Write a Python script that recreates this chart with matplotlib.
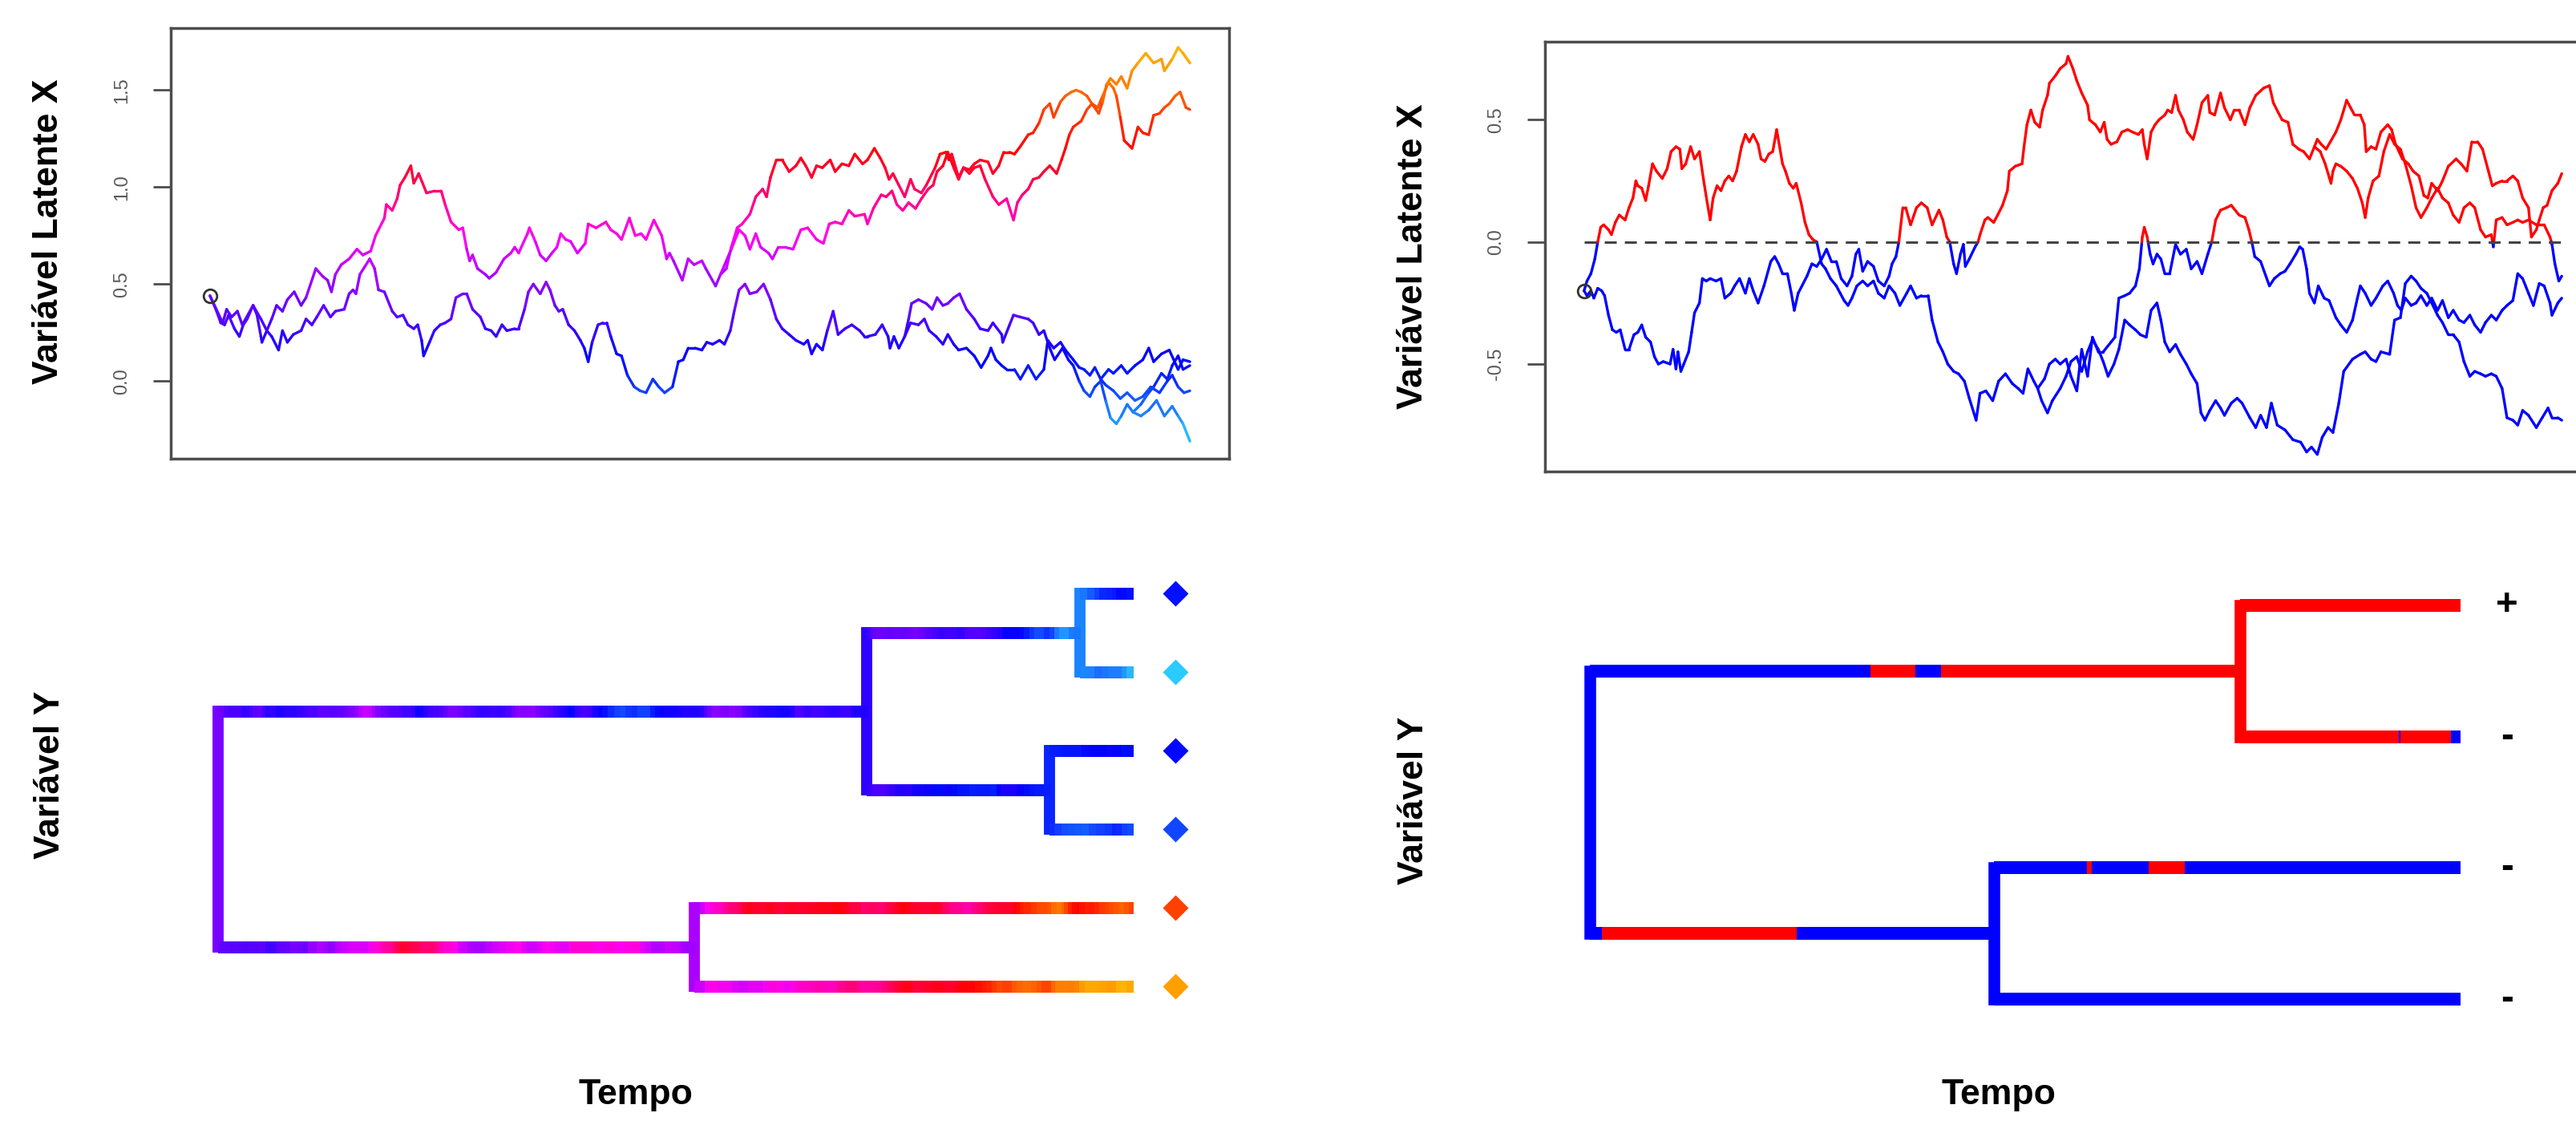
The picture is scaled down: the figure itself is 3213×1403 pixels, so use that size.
#!/usr/bin/env python3
"""
Movimento browniano ao longo da árvore: trajetórias da variável latente (em cima)
e a árvore colorida pelo valor do traço (em baixo).
Esquerda: traço contínuo (paleta tipo contMap). Direita: modelo de limiar, >0 vermelho, <=0 azul.
Saída: out.png
"""
import numpy as np
import matplotlib
matplotlib.use("Agg")
import matplotlib.pyplot as plt
from matplotlib.collections import LineCollection
from matplotlib.colors import LinearSegmentedColormap, Normalize

W, H, DPI = 3213, 1403, 100
plt.rcParams["font.family"] = ["Liberation Sans", "DejaVu Sans"]
plt.rcParams["axes.unicode_minus"] = False

# ---------------- painel esquerdo (6 espécies) ----------------
# tempo relativo 0..1; cada ramo guarda os pontos depois do nó de origem
L_ROOT_V = 0.44
L_CHILDREN = {"root": ["A", "B"], "A": ["AA", "AB"], "AA": ["t1", "t2"],
              "AB": ["t3", "t4"], "B": ["t5", "t6"]}

L_A_t = [0.006, 0.011, 0.015, 0.019, 0.025, 0.030, 0.034, 0.038, 0.044, 0.048,
         0.052, 0.053, 0.058, 0.063, 0.070, 0.074, 0.079, 0.085, 0.093, 0.098,
         0.104, 0.109, 0.116, 0.123, 0.128, 0.137, 0.142, 0.146, 0.149, 0.153,
         0.158, 0.163, 0.168, 0.172, 0.178, 0.186, 0.191, 0.197, 0.202, 0.208,
         0.212, 0.216, 0.218, 0.224, 0.229, 0.235, 0.240, 0.246, 0.251, 0.258,
         0.262, 0.268, 0.276, 0.281, 0.287, 0.292, 0.298, 0.303, 0.311, 0.315,
         0.321, 0.325, 0.330,
         0.337, 0.343, 0.347, 0.352, 0.356, 0.360, 0.366, 0.372, 0.378, 0.382,
         0.386, 0.390, 0.396, 0.401, 0.405, 0.409, 0.415, 0.420, 0.426, 0.433,
         0.439, 0.445, 0.452, 0.458, 0.464, 0.472, 0.478, 0.483, 0.488, 0.495,
         0.502, 0.507, 0.513, 0.520, 0.525, 0.531, 0.535, 0.540, 0.546, 0.551,
         0.558, 0.565, 0.572, 0.578, 0.584, 0.591, 0.598, 0.606, 0.610, 0.614,
         0.619, 0.625, 0.630, 0.636, 0.641, 0.648, 0.655, 0.663, 0.668,
         0.671, 0.679, 0.686, 0.692, 0.694, 0.698, 0.703, 0.709]
L_A_v = [0.37, 0.30, 0.29, 0.34, 0.27, 0.23, 0.29, 0.32, 0.39, 0.34,
         0.23, 0.20, 0.26, 0.23, 0.16, 0.26, 0.20, 0.24, 0.26, 0.32,
         0.29, 0.33, 0.39, 0.33, 0.36, 0.37, 0.45, 0.47, 0.45, 0.55,
         0.59, 0.63, 0.58, 0.47, 0.46, 0.36, 0.33, 0.34, 0.29, 0.27,
         0.29, 0.21, 0.13, 0.20, 0.26, 0.29, 0.30, 0.32, 0.43, 0.45,
         0.45, 0.37, 0.33, 0.27, 0.26, 0.23, 0.29, 0.26, 0.27, 0.27,
         0.37, 0.46, 0.50,
         0.45, 0.51, 0.47, 0.39, 0.36, 0.37, 0.29, 0.26, 0.21, 0.17,
         0.10, 0.20, 0.29, 0.30, 0.30, 0.23, 0.14, 0.13, 0.03, -0.03,
         -0.05, -0.06, 0.01, -0.03, -0.06, -0.03, 0.10, 0.11, 0.17, 0.17,
         0.16, 0.20, 0.19, 0.21, 0.19, 0.26, 0.36, 0.47, 0.50, 0.45,
         0.46, 0.50, 0.42, 0.32, 0.27, 0.24, 0.21, 0.19, 0.21, 0.14,
         0.19, 0.16, 0.26, 0.36, 0.24, 0.27, 0.29, 0.26, 0.23,
         0.23, 0.24, 0.29, 0.23, 0.17, 0.23, 0.17, 0.23]

L_AA_t = [0.713, 0.716, 0.723, 0.731, 0.737, 0.742, 0.748, 0.753, 0.759, 0.765,
          0.772, 0.780, 0.786, 0.794, 0.799, 0.808, 0.809, 0.816, 0.820, 0.827,
          0.835, 0.840, 0.846, 0.851, 0.857, 0.862, 0.870, 0.876, 0.881, 0.887,
          0.892, 0.898, 0.903, 0.909, 0.914, 0.919, 0.925, 0.930, 0.936, 0.942]
L_AA_v = [0.32, 0.40, 0.42, 0.40, 0.37, 0.43, 0.39, 0.40, 0.43, 0.45,
          0.37, 0.32, 0.27, 0.26, 0.30, 0.24, 0.20, 0.29, 0.34, 0.33,
          0.32, 0.30, 0.24, 0.26, 0.17, 0.11, 0.17, 0.11, 0.08, 0.00,
          -0.05, -0.08, -0.03, 0.00, -0.10, -0.19, -0.22, -0.18, -0.12, -0.16]

L_AB_t = [0.715, 0.723, 0.729, 0.734, 0.741, 0.748, 0.753, 0.759, 0.764, 0.772,
          0.780, 0.787, 0.794, 0.797, 0.802, 0.808, 0.813, 0.821, 0.827, 0.835,
          0.843, 0.851, 0.855, 0.861, 0.868, 0.873, 0.881, 0.887, 0.892, 0.898,
          0.903, 0.909]
L_AB_v = [0.30, 0.29, 0.32, 0.26, 0.23, 0.19, 0.24, 0.19, 0.16, 0.17,
          0.13, 0.07, 0.13, 0.17, 0.11, 0.08, 0.06, 0.06, 0.01, 0.08,
          0.01, 0.06, 0.21, 0.17, 0.20, 0.16, 0.11, 0.07, 0.06, 0.03,
          0.07, 0.01]

L_T1_t = [0.950, 0.958, 0.963, 0.971, 0.977, 0.982, 0.988, 0.993, 1.000]
L_T1_v = [-0.12, -0.06, -0.03, 0.04, 0.01, 0.08, 0.13, 0.06, 0.08]
L_T2_t = [0.950, 0.958, 0.966, 0.974, 0.982, 0.988, 0.993, 1.000]
L_T2_v = [-0.18, -0.15, -0.10, -0.18, -0.13, -0.18, -0.22, -0.31]
L_T3_t = [0.917, 0.922, 0.930, 0.936, 0.944, 0.952, 0.958, 0.963, 0.971, 0.979,
          0.988, 0.993, 1.000]
L_T3_v = [0.06, 0.04, 0.08, 0.04, 0.08, 0.11, 0.17, 0.10, 0.14, 0.16,
          0.06, 0.11, 0.10]
L_T4_t = [0.914, 0.922, 0.929, 0.936, 0.944, 0.952, 0.960, 0.969, 0.977, 0.982,
          0.988, 0.994, 1.000]
L_T4_v = [-0.02, -0.05, -0.09, -0.06, -0.10, -0.08, -0.03, -0.06, 0.00, 0.03,
          -0.03, -0.06, -0.05]

L_B_t = [0.013, 0.017, 0.022, 0.028, 0.033, 0.044, 0.052, 0.058, 0.063, 0.068,
         0.074, 0.079, 0.086, 0.093, 0.098, 0.108, 0.115, 0.120, 0.124, 0.128,
         0.134, 0.142, 0.150, 0.156, 0.164, 0.169, 0.178, 0.180, 0.186, 0.191,
         0.194, 0.199, 0.205, 0.208, 0.213, 0.221, 0.229, 0.236, 0.240, 0.246,
         0.254, 0.258, 0.262, 0.265, 0.268, 0.273, 0.281, 0.285, 0.292, 0.300,
         0.307, 0.311, 0.315, 0.324, 0.326, 0.332,
         0.337, 0.343, 0.349, 0.354, 0.358, 0.363, 0.368, 0.375, 0.383, 0.386,
         0.394, 0.404, 0.409, 0.415, 0.420, 0.428, 0.434, 0.440, 0.445, 0.453,
         0.461, 0.466, 0.469, 0.473, 0.482, 0.488, 0.494, 0.502, 0.506, 0.516,
         0.521]
L_B_v = [0.30, 0.37, 0.33, 0.36, 0.29, 0.39, 0.32, 0.26, 0.32, 0.39,
         0.36, 0.42, 0.46, 0.39, 0.43, 0.58, 0.54, 0.52, 0.46, 0.55,
         0.60, 0.63, 0.68, 0.65, 0.67, 0.75, 0.84, 0.91, 0.88, 0.94,
         1.01, 1.05, 1.11, 1.02, 1.07, 0.97, 0.98, 0.98, 0.91, 0.82,
         0.78, 0.79, 0.68, 0.62, 0.65, 0.58, 0.55, 0.53, 0.56, 0.63,
         0.66, 0.69, 0.66, 0.76, 0.79, 0.72,
         0.65, 0.62, 0.66, 0.69, 0.76, 0.73, 0.72, 0.66, 0.71, 0.81,
         0.79, 0.82, 0.78, 0.76, 0.73, 0.84, 0.75, 0.76, 0.73, 0.83,
         0.75, 0.63, 0.66, 0.62, 0.52, 0.63, 0.60, 0.62, 0.58, 0.49,
         0.55]

L_T5_t = [0.527, 0.532, 0.538, 0.543, 0.551, 0.557, 0.564, 0.568, 0.572, 0.578,
          0.584, 0.591, 0.598, 0.603, 0.608, 0.614, 0.619, 0.625, 0.633, 0.638,
          0.645, 0.652, 0.658, 0.666,
          0.671, 0.678, 0.684, 0.689, 0.693, 0.697, 0.703, 0.709, 0.715, 0.719,
          0.726, 0.731, 0.740, 0.745, 0.751, 0.754, 0.757, 0.764, 0.769, 0.775,
          0.780, 0.786, 0.791, 0.799, 0.805, 0.813, 0.820, 0.824, 0.829, 0.835,
          0.840, 0.846, 0.851, 0.857, 0.864, 0.869, 0.873, 0.877, 0.881, 0.889,
          0.895, 0.900, 0.906, 0.911, 0.917, 0.922, 0.925, 0.929, 0.933, 0.939,
          0.941, 0.947, 0.952, 0.958, 0.963, 0.969, 0.974, 0.979, 0.985, 0.990,
          0.996, 1.000]
L_T5_v = [0.58, 0.69, 0.79, 0.81, 0.86, 0.95, 0.99, 0.95, 1.05, 1.14,
          1.14, 1.08, 1.11, 1.15, 1.11, 1.05, 1.11, 1.10, 1.14, 1.08,
          1.12, 1.11, 1.17, 1.12,
          1.14, 1.20, 1.15, 1.10, 1.04, 1.07, 1.01, 0.95, 1.04, 0.99,
          0.97, 1.01, 1.10, 1.17, 1.18, 1.14, 1.17, 1.05, 1.10, 1.07,
          1.10, 1.11, 1.04, 0.95, 0.91, 0.94, 0.83, 0.92, 0.96, 0.99,
          1.04, 1.05, 1.08, 1.11, 1.07, 1.14, 1.20, 1.27, 1.31, 1.34,
          1.40, 1.43, 1.41, 1.47, 1.54, 1.51, 1.47, 1.36, 1.24, 1.21,
          1.20, 1.31, 1.28, 1.27, 1.37, 1.38, 1.41, 1.43, 1.47, 1.49,
          1.41, 1.40]

L_T6_t = [0.532, 0.540, 0.546, 0.551, 0.557, 0.562, 0.570, 0.574, 0.580, 0.587,
          0.595, 0.603, 0.610, 0.619, 0.626, 0.632, 0.638, 0.645, 0.652, 0.658,
          0.668,
          0.671, 0.677, 0.685, 0.690, 0.696, 0.701, 0.707, 0.713, 0.720, 0.726,
          0.733, 0.738, 0.742, 0.748, 0.753, 0.759, 0.764, 0.769, 0.775,
          0.780, 0.786, 0.794, 0.799, 0.805, 0.810, 0.816, 0.821, 0.827, 0.835,
          0.840, 0.846, 0.851, 0.857, 0.861, 0.868, 0.873, 0.879, 0.884, 0.889,
          0.895, 0.900, 0.907, 0.911, 0.915, 0.919, 0.925, 0.930, 0.936, 0.941,
          0.947, 0.955, 0.963, 0.971, 0.974, 0.982, 0.988, 0.993, 1.000]
L_T6_v = [0.68, 0.78, 0.75, 0.68, 0.76, 0.69, 0.66, 0.63, 0.69, 0.69,
          0.68, 0.78, 0.79, 0.73, 0.71, 0.81, 0.82, 0.81, 0.88, 0.85,
          0.86,
          0.81, 0.89, 0.96, 0.95, 0.98, 0.91, 0.88, 0.92, 0.89, 0.94,
          0.99, 1.01, 1.08, 1.11, 1.18, 1.10, 1.04, 1.10, 1.09,
          1.12, 1.14, 1.13, 1.07, 1.11, 1.18, 1.18, 1.17, 1.21, 1.27,
          1.28, 1.33, 1.40, 1.43, 1.36, 1.44, 1.47, 1.49, 1.50, 1.49,
          1.47, 1.43, 1.38, 1.44, 1.53, 1.56, 1.53, 1.57, 1.51, 1.60,
          1.64, 1.69, 1.64, 1.66, 1.60, 1.66, 1.72, 1.69, 1.64]

L_BRANCHES = {"A": (L_A_t, L_A_v), "AA": (L_AA_t, L_AA_v), "AB": (L_AB_t, L_AB_v),
              "t1": (L_T1_t, L_T1_v), "t2": (L_T2_t, L_T2_v),
              "t3": (L_T3_t, L_T3_v), "t4": (L_T4_t, L_T4_v),
              "B": (L_B_t, L_B_v), "t5": (L_T5_t, L_T5_v), "t6": (L_T6_t, L_T6_v)}

# ---------------- painel direito (4 espécies, limiar em 0) ----------------
R_ROOT_V = -0.20
R_CHILDREN = {"root": ["C", "D"], "C": ["t1", "t2"], "D": ["t3", "t4"]}
R_TIP_LABELS = {"t1": "+", "t2": "-", "t3": "-", "t4": "-"}

R_C_t = [0.003, 0.007, 0.010, 0.014, 0.018, 0.021, 0.025, 0.029, 0.033, 0.037,
         0.042, 0.046, 0.051, 0.055, 0.059, 0.063, 0.068, 0.072, 0.076, 0.081,
         0.088, 0.091, 0.094, 0.096, 0.099, 0.102, 0.107, 0.110, 0.113, 0.118,
         0.121, 0.125, 0.129, 0.135, 0.140, 0.144, 0.150, 0.154, 0.159, 0.165,
         0.169, 0.173, 0.178, 0.184, 0.191, 0.195, 0.199, 0.203, 0.208, 0.212,
         0.215, 0.219, 0.228, 0.233, 0.238, 0.243, 0.248, 0.253, 0.258, 0.263,
         0.269, 0.274, 0.278, 0.281, 0.285, 0.290, 0.296, 0.301, 0.307, 0.312,
         0.315, 0.319, 0.322, 0.326,
         0.329, 0.334, 0.340, 0.345, 0.351, 0.356, 0.363, 0.367, 0.371, 0.374,
         0.378, 0.381, 0.385, 0.388, 0.390, 0.394, 0.400, 0.403, 0.405, 0.410,
         0.413, 0.419, 0.423, 0.428, 0.433, 0.435, 0.441, 0.448, 0.450, 0.453,
         0.457, 0.461, 0.466, 0.469, 0.474, 0.476, 0.482, 0.487, 0.493, 0.495,
         0.500, 0.504, 0.509, 0.515, 0.517, 0.523, 0.528, 0.532, 0.535, 0.539,
         0.545, 0.550, 0.556, 0.561, 0.567, 0.571, 0.573, 0.576, 0.580, 0.584,
         0.588, 0.594, 0.597, 0.601, 0.605, 0.608, 0.613, 0.617, 0.623, 0.627,
         0.632, 0.638, 0.640, 0.645, 0.651, 0.655, 0.661, 0.665,
         0.670, 0.676, 0.681, 0.687, 0.695, 0.701, 0.705, 0.710, 0.714, 0.720,
         0.725, 0.731, 0.736, 0.742, 0.747]
R_C_v = [-0.22, -0.20, -0.23, -0.19, -0.20, -0.22, -0.30, -0.36, -0.37, -0.36,
         -0.44, -0.44, -0.38, -0.37, -0.34, -0.39, -0.41, -0.47, -0.50, -0.49,
         -0.50, -0.44, -0.52, -0.45, -0.53, -0.50, -0.45, -0.37, -0.29, -0.25,
         -0.15, -0.16, -0.15, -0.16, -0.15, -0.23, -0.21, -0.18, -0.15, -0.21,
         -0.15, -0.20, -0.25, -0.18, -0.08, -0.06, -0.09, -0.13, -0.13, -0.21,
         -0.28, -0.21, -0.14, -0.09, -0.10, -0.07, -0.03, -0.08, -0.08, -0.15,
         -0.18, -0.14, -0.05, -0.03, -0.12, -0.08, -0.10, -0.16, -0.18, -0.14,
         -0.09, -0.06, 0.00, 0.14,
         0.14, 0.07, 0.14, 0.16, 0.14, 0.07, 0.13, 0.09, 0.02, 0.00,
         -0.09, -0.13, -0.05, -0.01, -0.10, -0.07, -0.02, 0.00, 0.03, 0.09,
         0.10, 0.08, 0.11, 0.15, 0.21, 0.29, 0.31, 0.32, 0.39, 0.48,
         0.54, 0.49, 0.47, 0.54, 0.60, 0.65, 0.68, 0.71, 0.73, 0.76,
         0.71, 0.66, 0.61, 0.56, 0.50, 0.48, 0.45, 0.49, 0.42, 0.40,
         0.41, 0.45, 0.46, 0.45, 0.44, 0.46, 0.40, 0.34, 0.45, 0.48,
         0.50, 0.52, 0.54, 0.53, 0.60, 0.54, 0.50, 0.45, 0.42, 0.48,
         0.57, 0.60, 0.53, 0.52, 0.61, 0.55, 0.50, 0.54,
         0.54, 0.48, 0.55, 0.60, 0.63, 0.64, 0.57, 0.53, 0.50, 0.49,
         0.40, 0.38, 0.37, 0.34, 0.39]

R_T1_t = [0.750, 0.754, 0.759, 0.769, 0.774, 0.780, 0.784, 0.788, 0.794, 0.798,
          0.800, 0.805, 0.810, 0.815, 0.822, 0.826, 0.830, 0.837, 0.843, 0.848,
          0.854, 0.859, 0.863, 0.867, 0.873, 0.878, 0.884, 0.892, 0.897, 0.903,
          0.908, 0.914, 0.919, 0.925, 0.929, 0.933, 0.939, 0.944, 0.950, 0.955,
          0.960, 0.966, 0.969, 0.974, 0.977, 0.981, 0.985, 0.990, 0.996, 1.000]
R_T1_v = [0.42, 0.40, 0.38, 0.45, 0.50, 0.58, 0.55, 0.52, 0.52, 0.48,
          0.37, 0.39, 0.38, 0.45, 0.48, 0.46, 0.40, 0.34, 0.32, 0.29,
          0.27, 0.19, 0.18, 0.24, 0.21, 0.25, 0.31, 0.34, 0.32, 0.29,
          0.41, 0.41, 0.38, 0.29, 0.23, 0.24, 0.25, 0.25, 0.27, 0.25,
          0.18, 0.14, 0.02, 0.05, 0.09, 0.14, 0.15, 0.21, 0.24, 0.28]

R_T2_t = [0.753, 0.758, 0.764, 0.766, 0.769, 0.774, 0.780, 0.786, 0.791, 0.796,
          0.799, 0.802, 0.807, 0.813, 0.818, 0.824, 0.829, 0.835, 0.840, 0.846,
          0.851, 0.856, 0.862, 0.867, 0.873, 0.878, 0.884, 0.889, 0.895, 0.900,
          0.906, 0.911, 0.917, 0.922, 0.928, 0.930, 0.933, 0.939, 0.944, 0.950,
          0.955, 0.960, 0.966, 0.974, 0.982, 0.988, 0.990, 0.993, 0.997, 1.000]
R_T2_v = [0.37, 0.32, 0.24, 0.29, 0.32, 0.31, 0.29, 0.26, 0.22, 0.16,
          0.10, 0.18, 0.25, 0.27, 0.37, 0.44, 0.40, 0.38, 0.32, 0.23,
          0.14, 0.10, 0.14, 0.18, 0.22, 0.18, 0.16, 0.11, 0.08, 0.14,
          0.16, 0.14, 0.05, 0.02, 0.03, -0.02, 0.09, 0.10, 0.07, 0.08,
          0.09, 0.08, 0.09, 0.07, 0.07, 0.02, -0.01, -0.09, -0.16, -0.14]

R_D_t = [0.003, 0.007, 0.011, 0.014, 0.017, 0.020, 0.025, 0.028, 0.032, 0.036,
         0.042, 0.046, 0.050, 0.053, 0.055, 0.059, 0.063, 0.066, 0.070, 0.074,
         0.080, 0.085, 0.089, 0.094, 0.098, 0.100, 0.104, 0.109, 0.113, 0.118,
         0.122, 0.126, 0.129, 0.132, 0.136, 0.140, 0.144, 0.148, 0.152, 0.156,
         0.161, 0.165, 0.169, 0.173, 0.178, 0.181, 0.185, 0.189, 0.193, 0.197,
         0.200, 0.203, 0.206, 0.210, 0.214, 0.217, 0.222, 0.226, 0.230, 0.234,
         0.238, 0.243, 0.247, 0.252, 0.258, 0.262, 0.266, 0.270, 0.274, 0.279,
         0.285, 0.290, 0.296, 0.301, 0.307, 0.312, 0.318, 0.323,
         0.330, 0.334, 0.340, 0.345, 0.352, 0.356, 0.362, 0.367, 0.372, 0.378,
         0.383, 0.389, 0.394, 0.401, 0.405, 0.411, 0.418, 0.424, 0.431, 0.438,
         0.444, 0.449, 0.454, 0.460, 0.464]
R_D_v = [-0.16, -0.13, -0.07, 0.00, 0.06, 0.07, 0.05, 0.03, 0.08, 0.11,
         0.09, 0.14, 0.18, 0.25, 0.23, 0.22, 0.17, 0.23, 0.32, 0.29,
         0.26, 0.30, 0.37, 0.39, 0.38, 0.30, 0.32, 0.39, 0.34, 0.37,
         0.26, 0.16, 0.09, 0.18, 0.23, 0.21, 0.25, 0.27, 0.25, 0.29,
         0.39, 0.44, 0.41, 0.44, 0.40, 0.34, 0.33, 0.36, 0.37, 0.46,
         0.39, 0.32, 0.29, 0.24, 0.22, 0.24, 0.16, 0.08, 0.03, 0.01,
         0.00, -0.09, -0.11, -0.15, -0.18, -0.21, -0.24, -0.26, -0.23, -0.18,
         -0.16, -0.18, -0.16, -0.21, -0.23, -0.18, -0.21, -0.26,
         -0.21, -0.18, -0.23, -0.22, -0.22, -0.32, -0.41, -0.45, -0.50, -0.53,
         -0.54, -0.57, -0.64, -0.73, -0.62, -0.61, -0.65, -0.57, -0.54, -0.58,
         -0.60, -0.62, -0.52, -0.57, -0.60]

R_T3_t = [0.471, 0.476, 0.482, 0.487, 0.493, 0.498, 0.504, 0.509, 0.515, 0.520,
          0.526, 0.531, 0.539, 0.543, 0.547, 0.553, 0.558, 0.564, 0.568, 0.571,
          0.573, 0.576, 0.579, 0.582, 0.586, 0.590, 0.594, 0.599, 0.605, 0.610,
          0.616, 0.621, 0.627, 0.632, 0.638, 0.642, 0.646, 0.651, 0.657, 0.662,
          0.670, 0.676, 0.680, 0.683, 0.686, 0.692, 0.701, 0.706, 0.712, 0.717,
          0.722, 0.728, 0.732, 0.735, 0.739, 0.742, 0.747, 0.751, 0.757, 0.762,
          0.769, 0.774, 0.780, 0.786, 0.791, 0.794, 0.799, 0.805, 0.810, 0.817,
          0.822, 0.828, 0.832, 0.836, 0.840, 0.846, 0.851, 0.856, 0.862, 0.867,
          0.873, 0.878, 0.884, 0.889, 0.895, 0.900, 0.906, 0.911, 0.917, 0.922,
          0.928, 0.933, 0.939, 0.944, 0.950, 0.955, 0.960, 0.966, 0.971, 0.977,
          0.982, 0.988, 0.990, 0.996, 1.000]
R_T3_v = [-0.56, -0.50, -0.48, -0.50, -0.48, -0.55, -0.61, -0.44, -0.55, -0.39,
          -0.45, -0.45, -0.41, -0.39, -0.23, -0.22, -0.21, -0.18, -0.11, 0.02,
          0.06, 0.02, -0.05, -0.09, -0.05, -0.07, -0.13, -0.13, -0.01, -0.05,
          -0.03, -0.11, -0.08, -0.13, -0.05, 0.00, 0.09, 0.13, 0.14, 0.15,
          0.11, 0.10, 0.05, 0.00, -0.06, -0.08, -0.18, -0.15, -0.13, -0.12,
          -0.09, -0.05, -0.02, -0.03, -0.11, -0.21, -0.25, -0.18, -0.23, -0.24,
          -0.31, -0.34, -0.37, -0.32, -0.23, -0.18, -0.21, -0.26, -0.23, -0.18,
          -0.16, -0.21, -0.26, -0.28, -0.23, -0.26, -0.25, -0.22, -0.26, -0.23,
          -0.28, -0.24, -0.31, -0.28, -0.32, -0.33, -0.30, -0.34, -0.37, -0.33,
          -0.30, -0.32, -0.28, -0.26, -0.24, -0.13, -0.15, -0.21, -0.26, -0.17,
          -0.18, -0.25, -0.30, -0.25, -0.23]

R_T4_t = [0.468, 0.474, 0.479, 0.487, 0.493, 0.498, 0.504, 0.509, 0.515, 0.520,
          0.526, 0.531, 0.536, 0.542, 0.547, 0.553, 0.558, 0.564, 0.569, 0.575,
          0.580, 0.586, 0.590, 0.594, 0.599, 0.605, 0.610, 0.616, 0.621, 0.627,
          0.631, 0.635, 0.640, 0.646, 0.651, 0.655, 0.662,
          0.668, 0.673, 0.681, 0.687, 0.692, 0.698, 0.703, 0.709, 0.717, 0.725,
          0.733, 0.739, 0.744, 0.750, 0.755, 0.761, 0.766, 0.772, 0.777, 0.786,
          0.794, 0.799, 0.805, 0.810, 0.815, 0.824, 0.829, 0.835, 0.840, 0.846,
          0.851, 0.856, 0.862, 0.867, 0.873, 0.878, 0.884, 0.889, 0.895, 0.900,
          0.906, 0.911, 0.917, 0.922, 0.928, 0.933, 0.939, 0.944, 0.950, 0.955,
          0.960, 0.966, 0.974, 0.980, 0.986, 0.990, 0.996, 1.000]
R_T4_v = [-0.65, -0.70, -0.65, -0.60, -0.55, -0.49, -0.47, -0.53, -0.45, -0.40,
          -0.44, -0.49, -0.55, -0.50, -0.44, -0.32, -0.34, -0.36, -0.38, -0.39,
          -0.28, -0.25, -0.32, -0.41, -0.45, -0.42, -0.46, -0.50, -0.54, -0.58,
          -0.70, -0.73, -0.69, -0.65, -0.68, -0.71, -0.66,
          -0.64, -0.66, -0.72, -0.76, -0.71, -0.76, -0.66, -0.75, -0.77, -0.81,
          -0.82, -0.86, -0.84, -0.87, -0.80, -0.76, -0.78, -0.66, -0.53, -0.48,
          -0.46, -0.45, -0.48, -0.49, -0.45, -0.46, -0.32, -0.31, -0.17, -0.14,
          -0.16, -0.19, -0.21, -0.25, -0.30, -0.33, -0.38, -0.38, -0.41, -0.49,
          -0.55, -0.53, -0.54, -0.55, -0.54, -0.55, -0.60, -0.72, -0.73, -0.75,
          -0.69, -0.71, -0.76, -0.72, -0.68, -0.72, -0.72, -0.73]

R_BRANCHES = {"C": (R_C_t, R_C_v), "t1": (R_T1_t, R_T1_v), "t2": (R_T2_t, R_T2_v),
              "D": (R_D_t, R_D_v), "t3": (R_T3_t, R_T3_v), "t4": (R_T4_t, R_T4_v)}

# paleta do painel esquerdo (valor do traço -> cor)
CMAP_V = [-0.32, -0.15, 0.0, 0.12, 0.30, 0.45, 0.60, 0.75, 0.90, 1.05, 1.20, 1.40, 1.55, 1.74]
CMAP_C = ["#2bcfff", "#1a7bff", "#0a28ff", "#0000ff", "#4a00ff", "#7a00ff", "#c000ff",
          "#ff00f0", "#ff00a0", "#ff0040", "#ff0000", "#ff4000", "#ff8000", "#ffc000"]
RED, BLUE = "#ff0000", "#0000ff"
FRAME = "#4d4d4d"


def build_paths(children, branches, root_v):
    """(pai, filho) -> array Nx2 de (t, v), começando no nó pai."""
    paths = {}

    def walk(node, start):
        for ch in children.get(node, []):
            t, v = branches[ch]
            assert len(t) == len(v), ch
            pts = np.column_stack([[start[0]] + list(t), [start[1]] + list(v)])
            paths[(node, ch)] = pts
            walk(ch, pts[-1])
    walk("root", (0.0, root_v))
    return paths


def layout_y(children):
    ys, tips = {}, []

    def walk(node):
        if node not in children:
            ys[node] = float(len(tips))
            tips.append(node)
        else:
            ys[node] = float(np.mean([walk(c) for c in children[node]]))
        return ys[node]
    walk("root")
    return ys, tips


def segs_cmap(pts, cmap, norm):
    segs = np.stack([pts[:-1], pts[1:]], axis=1)
    mid = 0.5 * (pts[:-1, 1] + pts[1:, 1])
    return list(segs), [cmap(norm(m)) for m in mid]


def segs_sign(pts):
    """corta os segmentos em v = 0 para o modelo de limiar"""
    segs, cols = [], []
    for (t0, v0), (t1, v1) in zip(pts[:-1], pts[1:]):
        if v0 * v1 < 0:
            tc = t0 + (t1 - t0) * v0 / (v0 - v1)
            segs += [[(t0, v0), (tc, 0.0)], [(tc, 0.0), (t1, v1)]]
            cols += [RED if v0 > 0 else BLUE, RED if v1 > 0 else BLUE]
        else:
            segs.append([(t0, v0), (t1, v1)])
            cols.append(RED if v0 + v1 > 0 else BLUE)
    return segs, cols


def box(x0, y0, x1, y1):
    # caixa em pixels (origem em cima à esquerda) -> rect da figura
    return [x0 / W, 1 - y1 / H, (x1 - x0) / W, (y1 - y0) / H]


def style_trait_axes(ax, ylim, yticks):
    ax.set_xlim(-0.04, 1.04)
    ax.set_ylim(*ylim)
    ax.set_xticks([])
    ax.set_yticks(yticks)
    ax.set_yticklabels([f"{y:.1f}" for y in yticks])
    for s in ax.spines.values():
        s.set_linewidth(2.5)
        s.set_color(FRAME)
    ax.tick_params(axis="y", length=16, width=2, color=FRAME, pad=20,
                   labelsize=17, labelcolor="#5a5a5a", labelrotation=90)
    for lbl in ax.get_yticklabels():
        lbl.set_va("center")


def draw_tree(ax, paths, children, ys, colorize, lw_h, lw_v, node_col):
    # verticais nos nós
    for node, chs in children.items():
        if node == "root":
            t_node = 0.0
        else:
            parent = [p for p, c in children.items() if node in c][0]
            t_node = paths[(parent, node)][-1, 0]
        ax.plot([t_node, t_node], [ys[chs[0]], ys[chs[-1]]], color=node_col[node],
                lw=lw_v, solid_capstyle="projecting", clip_on=False, zorder=2)
    # ramos horizontais, cor segmento a segmento
    for (p, c), pts in paths.items():
        segs, cols = colorize(pts)
        hsegs = [[(s[0][0], ys[c]), (s[1][0], ys[c])] for s in segs]
        ax.add_collection(LineCollection(hsegs, colors=cols, linewidths=lw_h,
                                         capstyle="butt", antialiased=False,
                                         clip_on=False, zorder=3))


def main():
    fig = plt.figure(figsize=(W / DPI, H / DPI), dpi=DPI)
    fig.patch.set_facecolor("white")

    vmin, vmax = CMAP_V[0], CMAP_V[-1]
    cmap = LinearSegmentedColormap.from_list(
        "bm", [((v - vmin) / (vmax - vmin), c) for v, c in zip(CMAP_V, CMAP_C)])
    norm = Normalize(vmin, vmax)
    colorize_l = lambda pts: segs_cmap(pts, cmap, norm)

    # ===== esquerda =====
    lpaths = build_paths(L_CHILDREN, L_BRANCHES, L_ROOT_V)
    ax1 = fig.add_axes(box(213, 35, 1533, 572))
    for pts in lpaths.values():
        segs, cols = colorize_l(pts)
        ax1.add_collection(LineCollection(segs, colors=cols, linewidths=2.4,
                                          capstyle="round", joinstyle="round"))
    ax1.plot(0, L_ROOT_V, "o", mfc="none", mec="#333333", ms=12, mew=2, zorder=5)
    style_trait_axes(ax1, (-0.40, 1.82), [0.0, 0.5, 1.0, 1.5])

    ys, tips = layout_y(L_CHILDREN)
    tr1 = fig.add_axes(box(272, 740, 1413, 1230))
    tr1.set_xlim(0, 1)
    tr1.set_ylim(len(tips) - 1, 0)
    tr1.axis("off")
    node_v = {"root": L_ROOT_V}
    for (p, c), pts in lpaths.items():
        node_v[c] = pts[-1, 1]
    draw_tree(tr1, lpaths, L_CHILDREN, ys, colorize_l, 10.8, 10.0,
              {n: cmap(norm(v)) for n, v in node_v.items()})
    for tip in tips:
        tr1.plot(1.0465, ys[tip], "D", ms=16, color=cmap(norm(node_v[tip])),
                 mec="none", clip_on=False)

    # ===== direita =====
    rpaths = build_paths(R_CHILDREN, R_BRANCHES, R_ROOT_V)
    ax2 = fig.add_axes(box(1927, 52, 3244, 588))
    for pts in rpaths.values():
        segs, cols = segs_sign(pts)
        ax2.add_collection(LineCollection(segs, colors=cols, linewidths=2.4,
                                          capstyle="round", joinstyle="round"))
    ax2.plot([0, 1], [0, 0], color="#444444", lw=2.2, ls=(0, (4.9, 3.3)), zorder=4)
    ax2.plot(0, R_ROOT_V, "o", mfc="none", mec="#333333", ms=12, mew=2, zorder=5)
    style_trait_axes(ax2, (-0.94, 0.82), [-0.5, 0.0, 0.5])

    ys_r, tips_r = layout_y(R_CHILDREN)
    tr2 = fig.add_axes(box(1983, 755, 3069, 1246))
    tr2.set_xlim(0, 1)
    tr2.set_ylim(len(tips_r) - 1, 0)
    tr2.axis("off")
    node_vr = {"root": R_ROOT_V}
    for (p, c), pts in rpaths.items():
        node_vr[c] = pts[-1, 1]
    draw_tree(tr2, rpaths, R_CHILDREN, ys_r, segs_sign, 11.5, 10.5,
              {n: (RED if v > 0 else BLUE) for n, v in node_vr.items()})
    for tip in tips_r:
        tr2.text(1.053, ys_r[tip], R_TIP_LABELS[tip], fontsize=34, fontweight="bold",
                 ha="center", va="center", clip_on=False)

    # ===== rótulos =====
    lab = dict(fontsize=32, fontweight="bold", color="black", ha="center", va="center")
    fig.text(60 / W, 1 - 289 / H, "Variável Latente X", rotation=90, **lab)
    fig.text(1762 / W, 1 - 320 / H, "Variável Latente X", rotation=90, **lab)
    fig.text(63 / W, 1 - 966 / H, "Variável Y", rotation=90, **lab)
    fig.text(1763 / W, 1 - 998 / H, "Variável Y", rotation=90, **lab)
    fig.text(793 / W, 1 - 1366 / H, "Tempo", **lab)
    fig.text(2493 / W, 1 - 1366 / H, "Tempo", **lab)

    fig.savefig("out.png", dpi=DPI, facecolor="white")
    plt.close(fig)


if __name__ == "__main__":
    main()
